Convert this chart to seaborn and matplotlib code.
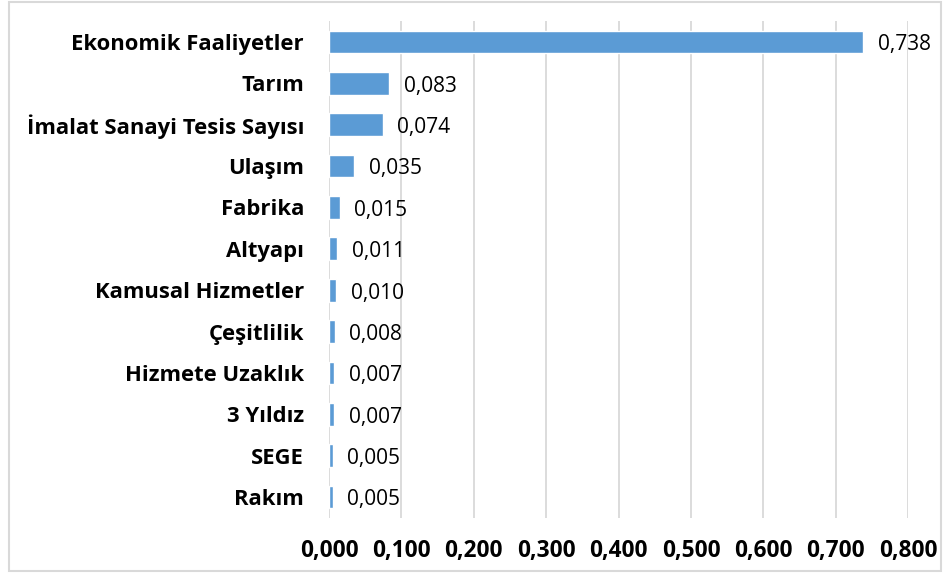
import matplotlib
matplotlib.use("Agg")
import matplotlib.pyplot as plt
import seaborn as sns
import pandas as pd
from matplotlib.patches import Rectangle

categories = [
    "Ekonomik Faaliyetler", "Tarım", "İmalat Sanayi Tesis Sayısı", "Ulaşım",
    "Fabrika", "Altyapı", "Kamusal Hizmetler", "Çeşitlilik",
    "Hizmete Uzaklık", "3 Yıldız", "SEGE", "Rakım",
]
values = [0.738, 0.083, 0.074, 0.035, 0.015, 0.011, 0.010, 0.008, 0.007, 0.007, 0.005, 0.005]
x_ticks = [0.0, 0.1, 0.2, 0.3, 0.4, 0.5, 0.6, 0.7, 0.8]

df = pd.DataFrame({"kategori": categories, "deger": values})

sns.set_theme(style="white")
plt.rcParams["font.family"] = ["Open Sans", "DejaVu Sans"]

fig = plt.figure(figsize=(9.43, 5.75), dpi=100)
ax = fig.add_axes([0.349, 0.0997, 0.614, 0.8633])

sns.barplot(data=df, y="kategori", x="deger", orient="h", color="#5B9BD5",
            saturation=1, width=0.55, ax=ax, zorder=3)

ax.set_xlim(0, 0.8)
ax.set_xticks(x_ticks)
ax.set_xticklabels([f"{t:.3f}".replace(".", ",") for t in x_ticks],
                   fontsize=16.3, fontweight="bold", color="black")
ax.tick_params(axis="x", length=0, pad=15)
ax.tick_params(axis="y", length=0, pad=18)
for lbl in ax.get_yticklabels():
    lbl.set_fontsize(15.8)
    lbl.set_fontweight("bold")
    lbl.set_color("black")
ax.set_xlabel("")
ax.set_ylabel("")
ax.grid(axis="x", color="#d9d9d9", linewidth=1.3, zorder=0)
ax.set_axisbelow(True)
for s in ax.spines.values():
    s.set_visible(False)

for i, v in enumerate(values):
    ax.text(v + 0.02, i + 0.07, f"{v:.3f}".replace(".", ","), va="center", ha="left",
            fontsize=15, color="black")

fig.patches.append(Rectangle((0.0095, 0.007), 0.9885, 0.99, transform=fig.transFigure,
                             fill=False, edgecolor="#d9d9d9", linewidth=1.5))

fig.savefig("out.png", dpi=100)
